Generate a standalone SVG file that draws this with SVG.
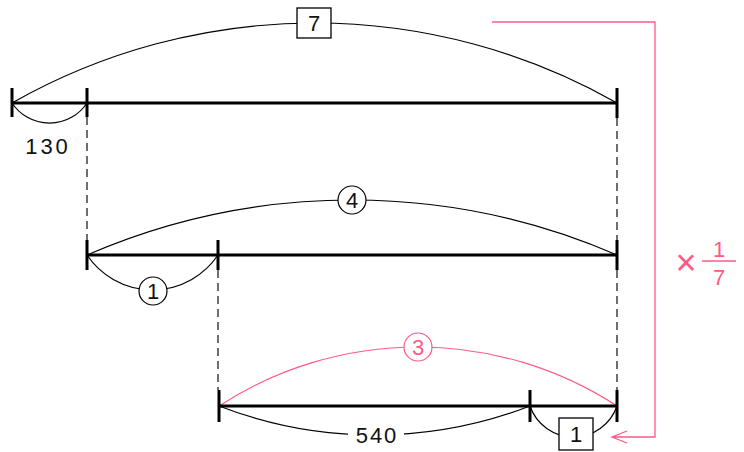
<svg xmlns="http://www.w3.org/2000/svg" width="744" height="452" viewBox="0 0 744 452">
<style>
.seg{stroke:#000;stroke-width:3;fill:none}
.tick{stroke:#000;stroke-width:3}
.arc{stroke:#000;stroke-width:1.2;fill:none}
.parc{stroke:#ff5a86;stroke-width:1.2;fill:none}
.dash{stroke:#222;stroke-width:1.3;stroke-dasharray:8 5}
.t{font-family:"Liberation Sans",Arial,sans-serif;font-size:22px;fill:#111;text-anchor:middle}
.pt{font-family:"Liberation Sans",Arial,sans-serif;font-size:22px;fill:#ff5a86;text-anchor:middle}
.box{fill:#fff;stroke:#000;stroke-width:1.3}
.circ{fill:#fff;stroke:#000;stroke-width:1.2}
.pcirc{fill:#fff;stroke:#ff5a86;stroke-width:1.2}
</style>
<g id="connectors">
<path class="dash" d="M87 117V240M218 270V390M617 118V240M617 270V390"/>
<path class="arc" d="M12 103A612 612 0 0 1 617 103"/>
<path class="arc" d="M12 103A45 45 0 0 0 87 103"/>
<path class="arc" d="M87 255A666 666 0 0 1 617 255"/>
<path class="arc" d="M87 255A79 79 0 0 0 218 255"/>
<path class="parc" d="M219 406A365 365 0 0 1 617 406"/>
<path class="arc" d="M219 406A431 431 0 0 0 530 406"/>
<path class="arc" d="M530 406A46 46 0 0 0 617 406"/>
<path fill="none" stroke="#ff5a86" stroke-width="1.3" d="M492 22H655V437H612M627 431L612 437L627 443"/>
</g>
<g id="bar1">
<path class="seg" d="M12 103H617"/>
<path class="tick" d="M12 88V117M87 88V117M617 88V118"/>
</g>
<g id="bar2">
<path class="seg" d="M87 255H617"/>
<path class="tick" d="M87 240V270M218 240V270M617 240V270"/>
</g>
<g id="bar3">
<path class="seg" d="M219 406H617"/>
<path class="tick" d="M219 390V422M530 390V422M617 390V422"/>
</g>
<g id="label7">
<rect class="box" x="297" y="8" width="34" height="30"/>
<text class="t" x="314" y="31">7</text>
</g>
<g id="label130">
<text class="t" x="48" y="154" letter-spacing="3">130</text>
</g>
<g id="label4">
<circle class="circ" cx="352" cy="200" r="14"/>
<text class="t" x="352" y="208">4</text>
</g>
<g id="label1c">
<circle class="circ" cx="153" cy="291" r="14"/>
<text class="t" x="153" y="299">1</text>
</g>
<g id="label3">
<circle class="pcirc" cx="418" cy="347" r="14"/>
<text class="pt" x="418" y="355">3</text>
</g>
<g id="label540">
<rect x="348" y="425" width="56" height="20" fill="#fff"/>
<text class="t" x="377" y="443" letter-spacing="2">540</text>
</g>
<g id="label1b">
<rect class="box" x="559" y="418" width="34" height="32"/>
<text class="t" x="576" y="442">1</text>
</g>
<g id="factor">
<text class="pt" x="686" y="275" style="font-size:36px">×</text>
<path stroke="#ff5a86" stroke-width="1.3" d="M702 261H736"/>
<text class="pt" x="719" y="257">1</text>
<text class="pt" x="719" y="285">7</text>
</g>
</svg>
